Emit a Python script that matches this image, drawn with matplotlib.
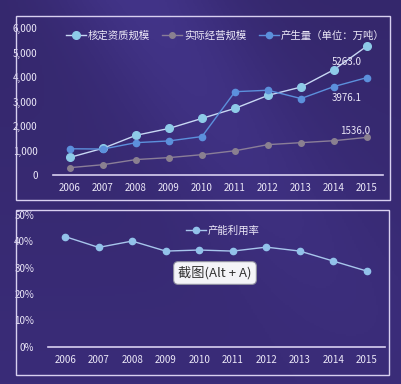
import numpy as np
import matplotlib.pyplot as plt
from matplotlib.patches import Rectangle
from matplotlib.ticker import FuncFormatter
from matplotlib.colors import LinearSegmentedColormap

plt.rcParams['font.family'] = ['Noto Sans CJK SC', 'DejaVu Sans']

years = [2006, 2007, 2008, 2009, 2010, 2011, 2012, 2013, 2014, 2015]
# 万吨
qualified = [720, 1090, 1620, 1900, 2310, 2720, 3250, 3590, 4300, 5263.0]
actual = [300, 420, 630, 710, 830, 990, 1240, 1320, 1400, 1536.0]
output = [1070, 1060, 1320, 1390, 1570, 3400, 3460, 3120, 3610, 3976.1]
# 产能利用率 (%)
utilization = [41.8, 37.7, 40.1, 36.3, 36.7, 36.3, 37.8, 36.3, 32.5, 28.7]

W, H = 402, 384
fig = plt.figure(figsize=(W / 100, H / 100), dpi=100)

# 背景グラデーション
bg = fig.add_axes([0, 0, 1, 1], zorder=-10)
yy, xx = np.mgrid[0:1:200j, 0:1:200j]
band = np.exp(-((xx - yy * 0.6 - 0.35) ** 2) / 0.05)
grad = 0.25 + 0.35 * band * (1 - yy) + 0.15 * yy
cmap = LinearSegmentedColormap.from_list('bg', ['#2c2058', '#3a2c78', '#4a3c98'])
bg.imshow(grad, cmap=cmap, aspect='auto', extent=[0, 1, 0, 1], vmin=0, vmax=0.8)
bg.axis('off')

frame_c = '#d8d0f0'
txt_c = '#ece8f8'


def px_rect(l, t, r, b):
    return [l / W, 1 - b / H, (r - l) / W, (b - t) / H]


for l, t, r, b in [(16, 16, 390, 200), (16, 210, 389, 375)]:
    x0, y0, w, h = px_rect(l, t, r, b)
    fig.patches.append(Rectangle((x0, y0), w, h, transform=fig.transFigure,
                                 fill=False, ec=frame_c, lw=1))


def style(ax):
    ax.set_facecolor('none')
    for s in ['top', 'right', 'left']:
        ax.spines[s].set_visible(False)
    ax.spines['bottom'].set_color(frame_c)
    ax.spines['bottom'].set_linewidth(1.2)
    ax.tick_params(length=0, colors=txt_c, labelsize=7)
    ax.set_xticks(years)


# 上段
ax1 = fig.add_axes(px_rect(53, 28, 383, 175))
style(ax1)
ax1.plot(years, qualified, color='#c8d8f4', lw=1, marker='o', ms=5.5,
         mfc='#8ecbe8', mec='#8ecbe8', label='核定资质规模')
ax1.plot(years, actual, color='#8a7e98', lw=1, marker='o', ms=4,
         mfc='#8a8090', mec='#8a8090', label='实际经营规模')
ax1.plot(years, output, color='#5c90dc', lw=1, marker='o', ms=4.5,
         mfc='#5c90dc', mec='#5c90dc', label='产生量（单位：万吨）')
ax1.set_xlim(2005.485, 2015.485)
ax1.set_ylim(0, 6000)
ax1.set_yticks(range(0, 6001, 1000))
ax1.yaxis.set_major_formatter(FuncFormatter(lambda v, p: f'{v:,.0f}'))
ax1.tick_params(axis='y', pad=11)
ax1.tick_params(axis='x', pad=6)
ax1.annotate(f'{qualified[-1]:.1f}', (years[-1], qualified[-1]), xytext=(-20, -16),
             textcoords='offset pixels', ha='center', va='center', color=txt_c, fontsize=7)
ax1.annotate(f'{output[-1]:.1f}', (years[-1], output[-1]), xytext=(-20, -20),
             textcoords='offset pixels', ha='center', va='center', color=txt_c, fontsize=7)
ax1.annotate(f'{actual[-1]:.1f}', (years[-1], actual[-1]), xytext=(-12, 6),
             textcoords='offset pixels', ha='center', va='center', color=txt_c, fontsize=7)
leg = ax1.legend(loc='upper left', bbox_to_anchor=(0.039, 0.985), ncol=3, frameon=False,
                 fontsize=7.5, handlelength=1.9, handletextpad=0.15, columnspacing=1.25,
                 borderpad=0, borderaxespad=0)
for t in leg.get_texts():
    t.set_color(txt_c)

# 下段
ax2 = fig.add_axes(px_rect(48, 215, 385, 346.7))
style(ax2)
ax2.plot(years, utilization, color='#a8c6ec', lw=1, marker='o', ms=4.5,
         mfc='#92c2ea', mec='#92c2ea', label='产能利用率')
ax2.set_xlim(2005.49, 2015.54)
ax2.set_ylim(0, 50)
ax2.set_yticks(range(0, 51, 10))
ax2.yaxis.set_major_formatter(FuncFormatter(lambda v, p: f'{v:.0f}%'))
ax2.tick_params(axis='y', pad=10)
ax2.tick_params(axis='x', pad=6)
leg2 = ax2.legend(loc='upper left', bbox_to_anchor=(0.41, 0.92), frameon=False,
                  fontsize=7.5, handlelength=1.9, handletextpad=0.15,
                  borderpad=0, borderaxespad=0)
for t in leg2.get_texts():
    t.set_color(txt_c)

# スクリーンショットのツールチップ
fig.text(215 / W, 1 - 273 / H, '截图(Alt + A)', ha='center', va='center',
         fontsize=9.5, color='#333333',
         bbox=dict(boxstyle='round,pad=0.35', fc='#f4f4f8', ec='#9090a0', lw=0.8))

fig.savefig('out.png', dpi=100)
